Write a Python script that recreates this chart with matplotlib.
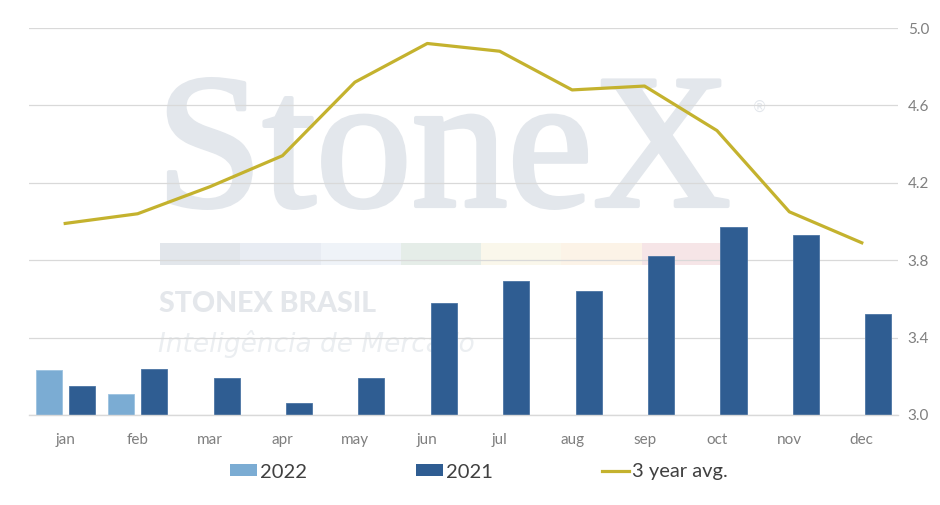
import matplotlib
matplotlib.use("Agg")
import matplotlib.pyplot as plt
from matplotlib.patches import Rectangle, Patch
from matplotlib.lines import Line2D
import matplotlib.patheffects as pe
import numpy as np

months = ["jan", "feb", "mar", "apr", "may", "jun", "jul", "aug", "sep", "oct", "nov", "dec"]
vals_2022 = [3.23, 3.11]
vals_2021 = [3.15, 3.24, 3.19, 3.06, 3.19, 3.58, 3.69, 3.64, 3.82, 3.97, 3.93, 3.52]
avg_3yr = [3.99, 4.04, 4.18, 4.34, 4.72, 4.92, 4.88, 4.68, 4.70, 4.47, 4.05, 3.89]
yticks = [3.0, 3.4, 3.8, 4.2, 4.6, 5.0]

c2022 = "#7BACD3"
c2021 = "#2F5D92"
cavg = "#C4B22E"
grid_c = "#D9D9D9"
tick_c = "#7F7F7F"

plt.rcParams['font.family'] = ['Lato', 'DejaVu Sans']

fig = plt.figure(figsize=(9.4, 5.05), dpi=100)
fig.patch.set_facecolor("white")
ax = fig.add_axes([29/940, 1 - 415/505, (898 - 29)/940, (415 - 28)/505])
ax.set_facecolor("none")

# watermark (behind axes)
wm = "#E3E7EC"
fig.text(156/940, 1 - 206/505, "StoneX", family="Liberation Serif", fontsize=138,
         color=wm, zorder=-2, ha="left", va="baseline",
         path_effects=[pe.withStroke(linewidth=3, foreground=wm)])
fig.text(752/940, 1 - 112/505, "®", family="DejaVu Sans", fontsize=11,
         color=wm, zorder=-2, ha="left", va="baseline")
strip_cols = ["#E2E6EB", "#E8ECF3", "#EFF3F8", "#E5EDE8", "#FAF7EB", "#FCF3E7", "#F6E5E7"]
x0, w = 160, (722 - 160) / 7
for i, c in enumerate(strip_cols):
    fig.patches.append(Rectangle(((x0 + i * w) / 940, 1 - 265/505), w / 940, 22/505,
                                 transform=fig.transFigure, facecolor=c, edgecolor="none", zorder=-2))
fig.text(159/940, 1 - 312/505, "STONEX BRASIL", fontsize=20.5, fontweight="black",
         color="#E4E7EB", zorder=-2, ha="left", va="baseline")
fig.text(158/940, 1 - 352/505, "Inteligência de Mercado", family="DejaVu Sans", fontsize=19,
         style="italic", fontweight="light", color="#EBEEF1", zorder=-2, ha="left", va="baseline")

x = np.arange(len(months))
bw = 0.36
off = 0.228
ax.bar(x[:len(vals_2022)] - off, vals_2022, bw, color=c2022, edgecolor="#9CC2E0", linewidth=0.6, zorder=3)
ax.bar(x + off, vals_2021, bw, color=c2021, edgecolor="#4B74A3", linewidth=0.6, zorder=3)
ax.plot(x, avg_3yr, color=cavg, linewidth=2.3, zorder=4, solid_joinstyle="round")

ax.set_xlim(-0.5, len(months) - 0.5)
ax.set_ylim(3.0, 5.0)
ax.set_yticks(yticks)
ax.set_yticklabels([f"{v:.1f}" for v in yticks])
ax.yaxis.tick_right()
ax.set_xticks(x)
ax.set_xticklabels(months)
ax.tick_params(axis="y", length=0, pad=7, labelsize=11, labelcolor=tick_c)
ax.tick_params(axis="x", length=0, pad=13, labelsize=11, labelcolor=tick_c)
ax.grid(axis="y", color=grid_c, linewidth=0.9, zorder=0)
ax.set_axisbelow(True)
for s in ["top", "left", "right"]:
    ax.spines[s].set_visible(False)
ax.spines["bottom"].set_color(grid_c)
ax.spines["bottom"].set_linewidth(1.0)
ax.spines["bottom"].set_zorder(5)

handles = [Patch(facecolor=c2022, edgecolor="none"),
           Patch(facecolor=c2021, edgecolor="none"),
           Line2D([0], [0], color=cavg, linewidth=2.3)]
leg = fig.legend(handles, ["2022", "2021", "3 year avg."], loc="center",
                 bbox_to_anchor=(479/940, 1 - 472/505), ncol=3, frameon=False,
                 fontsize=14.5, handlelength=1.35, handleheight=0.55, handletextpad=0.15,
                 columnspacing=5.4, labelcolor="#404040")

fig.savefig("out.png", dpi=100, facecolor="white")
